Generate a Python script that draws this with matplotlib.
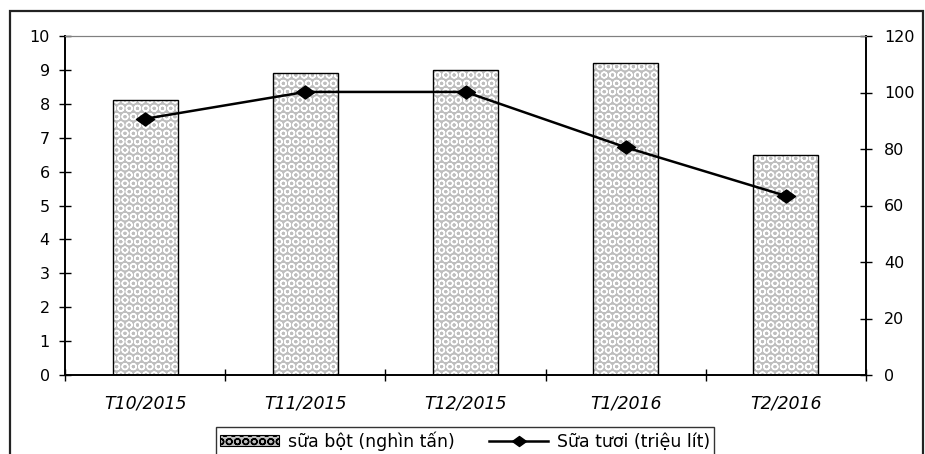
import matplotlib
matplotlib.use("Agg")
import matplotlib.pyplot as plt
from matplotlib.patches import Rectangle
from matplotlib.lines import Line2D
from matplotlib.path import Path

plt.rcParams['font.family'] = ['DejaVu Sans']
plt.rcParams['hatch.linewidth'] = 1.0

categories = ["T10/2015", "T11/2015", "T12/2015", "T1/2016", "T2/2016"]
sua_bot = [8.1, 8.9, 9.0, 9.2, 6.5]
sua_tuoi = [90.7, 100.2, 100.2, 80.6, 63.4]
left_ticks = list(range(0, 11))
right_ticks = list(range(0, 121, 20))

fig = plt.figure(figsize=(9.25, 4.54), dpi=100)
ax = fig.add_axes([65/925, 1-375/454, (866-65)/925, (375-36)/454])
ax2 = ax.twinx()

x = list(range(len(categories)))
bw = 0.405
fill_gray = '#bebebe'
ax.bar(x, sua_bot, width=bw, color=fill_gray, edgecolor='white', hatch='OO', linewidth=0, zorder=2)
ax.bar(x, sua_bot, width=bw, fill=False, edgecolor='black', linewidth=1.0, zorder=3)

diamond = Path([(-1, 0), (0, 0.72), (1, 0), (0, -0.72), (-1, 0)],
               [Path.MOVETO, Path.LINETO, Path.LINETO, Path.LINETO, Path.CLOSEPOLY])
ax2.plot(x, sua_tuoi, color='black', linewidth=1.8, marker=diamond, markersize=13,
         markerfacecolor='black', markeredgecolor='black', zorder=4)

ax.set_xlim(-0.5, 4.5)
ax.set_ylim(0, 10)
ax2.set_ylim(0, 120)
ax.set_yticks(left_ticks)
ax2.set_yticks(right_ticks)
ax.set_xticks([i - 0.5 for i in range(len(categories) + 1)])
ax.set_xticklabels([])
ax.set_xticks(x, minor=True)
ax.set_xticklabels(categories, minor=True, fontstyle='italic', fontsize=12.5)
ax.tick_params(axis='x', which='minor', length=0, pad=14)
ax.tick_params(axis='x', which='major', direction='inout', length=8, width=1)
ax.tick_params(axis='y', direction='inout', length=8, width=1, labelsize=11.5, pad=7)
ax2.tick_params(axis='y', direction='inout', length=8, width=1, labelsize=11.5, pad=9)

for a in (ax, ax2):
    a.spines['top'].set_color('#808080')
    a.spines['top'].set_linewidth(0.8)
    a.spines['left'].set_linewidth(1.2)
    a.spines['right'].set_linewidth(1.2)
    a.spines['bottom'].set_linewidth(1.2)
ax2.set_zorder(ax.get_zorder() + 1)
ax2.patch.set_visible(False)

# figure border
fig.patches.append(Rectangle((10/925, -0.05), (923-10)/925, 1 - 11/454 + 0.05,
                             transform=fig.transFigure, fill=False,
                             edgecolor='#222222', linewidth=1.6))

bar_handle = Rectangle((0, 0), 1, 1, facecolor=fill_gray, edgecolor='black', hatch='OO', linewidth=0.8)
line_handle = Line2D([], [], color='black', linewidth=1.8, marker=diamond, markersize=10)
leg = fig.legend([bar_handle, line_handle],
                 ["sữa bột (nghìn tấn)", "Sữa tươi (triệu lít)"],
                 loc='upper center', bbox_to_anchor=(465/925, 1 - 427/454),
                 ncol=2, fontsize=12.5, frameon=True, fancybox=False,
                 edgecolor='black', handlelength=3.4, handleheight=0.6,
                 handletextpad=0.5, columnspacing=2.0, borderpad=0.25,
                 borderaxespad=0)
leg.get_frame().set_linewidth(1.0)

fig.savefig("out.png", dpi=100)
